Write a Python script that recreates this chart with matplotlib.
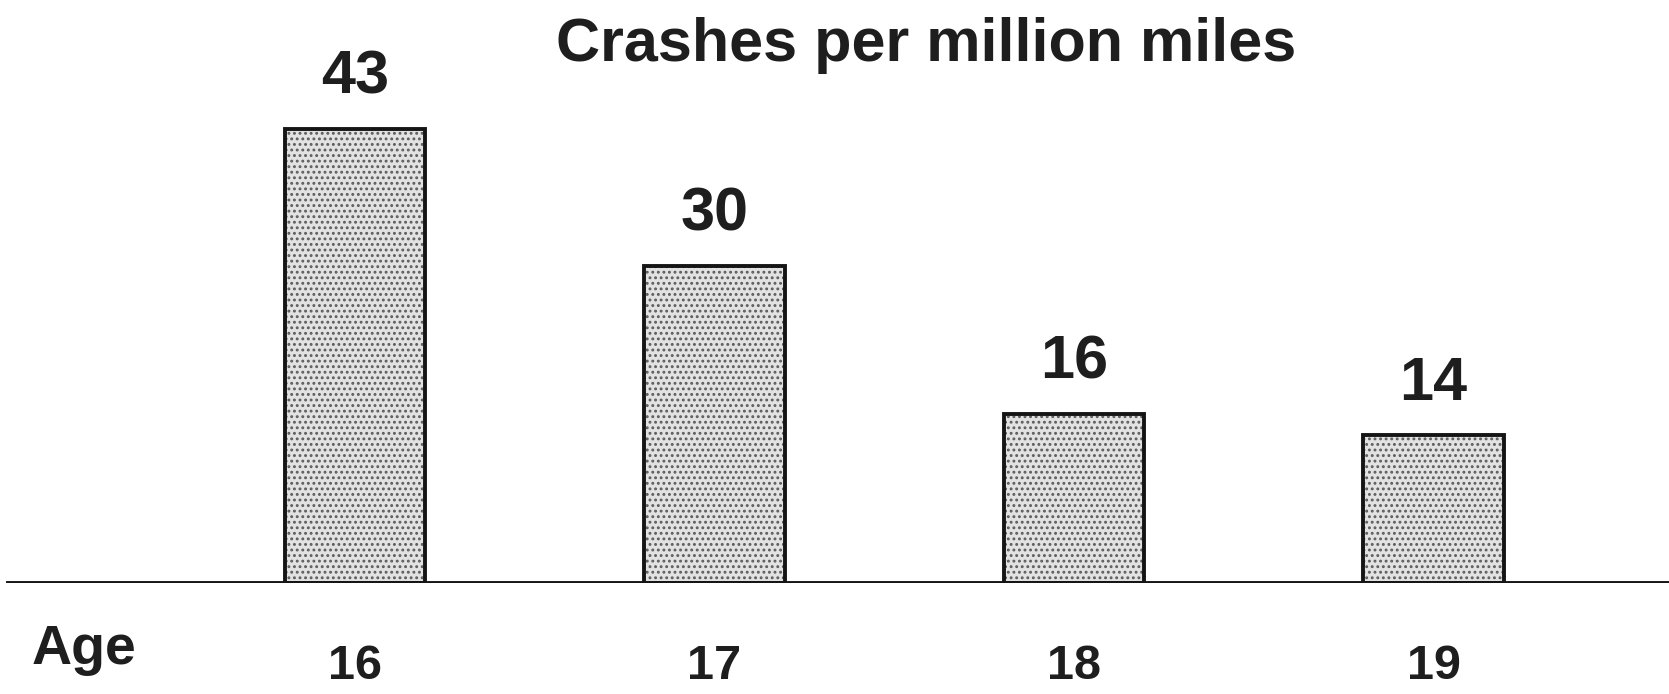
import numpy as np
import matplotlib
matplotlib.use('Agg')
import matplotlib.pyplot as plt

# crash rate by driver age
ages = ['16', '17', '18', '19']
crashes = [43, 30, 16, 14]
title = 'Crashes per million miles'
axis_name = 'Age'

plt.rcParams['font.family'] = ['Liberation Sans', 'DejaVu Sans']
plt.rcParams['font.weight'] = 'bold'
plt.rcParams['hatch.linewidth'] = 1.3

ink = '#1e1e1e'

fig = plt.figure(figsize=(16.69, 6.94), dpi=100)
ax = fig.add_axes([0, 0.16, 1, 0.84])

x = np.arange(len(ages))
# stippled fill first, then a plain black outline on top
ax.bar(x, crashes, width=0.39, color='#e2e2e2', edgecolor='#5c5c5c',
       hatch='...', linewidth=0, zorder=2)
ax.bar(x, crashes, width=0.39, fill=False, edgecolor='#151515',
       linewidth=2.8, zorder=3)

for xi, v in zip(x, crashes):
    ax.annotate(str(v), (xi, v), xytext=(0, 16), textcoords='offset points',
                ha='center', va='bottom', fontsize=44, fontweight='bold',
                color=ink)

ax.axhline(0, xmin=0.005, xmax=1, color='#151515', linewidth=2.8, zorder=4)

ax.set_xlim(-0.987, 3.655)
ax.set_ylim(0, 55.2)
ax.set_xticks(x, ages)
ax.tick_params(axis='x', length=0, pad=44, labelsize=35, labelcolor=ink)
ax.set_yticks([])
for s in ax.spines.values():
    s.set_visible(False)

fig.text(0.019, 0.064, axis_name, ha='left', va='center', fontsize=40,
         fontweight='bold', color=ink)
fig.text(0.555, 0.935, title, ha='center', va='center', fontsize=44,
         fontweight='bold', color=ink)

fig.savefig('out.png', dpi=100, facecolor='white')
